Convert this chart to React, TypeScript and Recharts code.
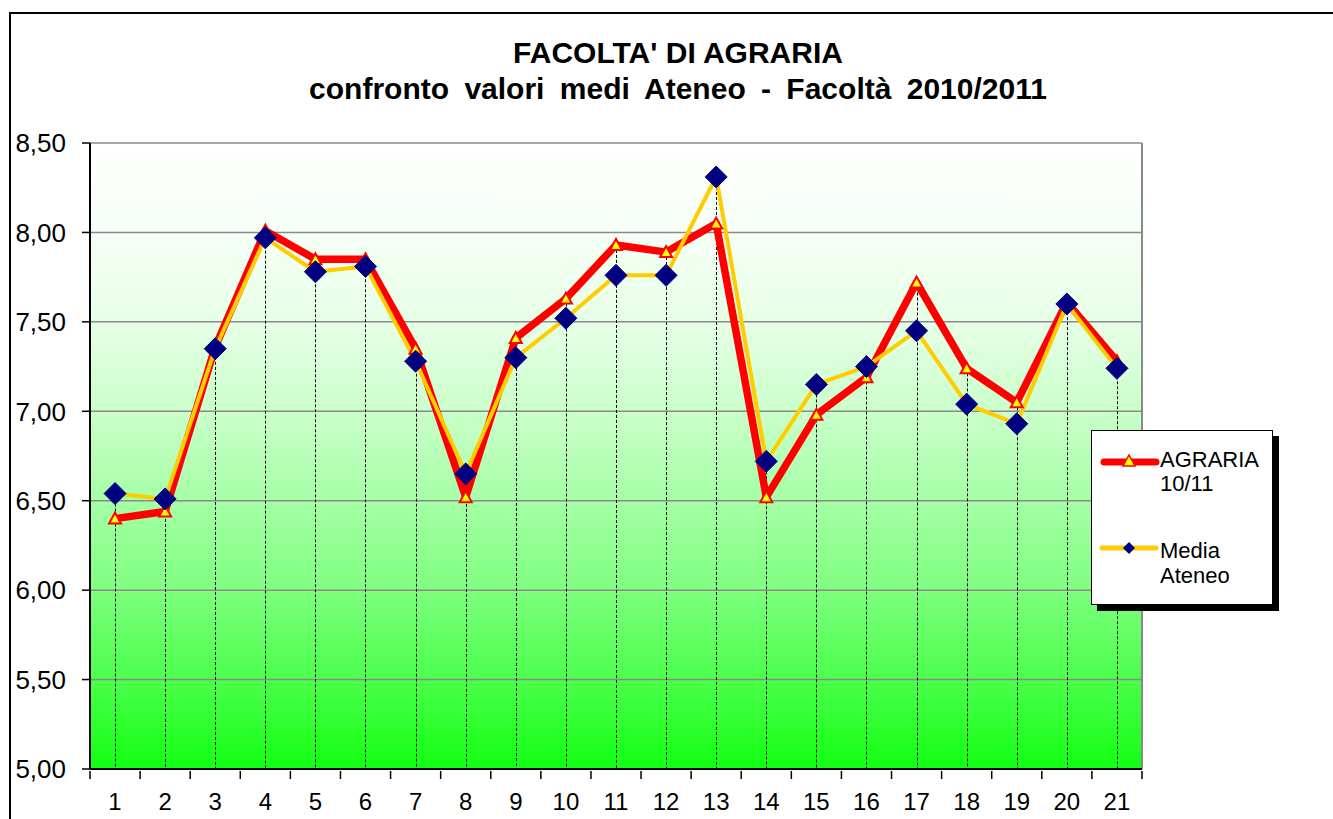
import React from "react";
import {
  ComposedChart,
  Line,
  Bar,
  XAxis,
  YAxis,
  CartesianGrid,
  ReferenceLine,
} from "recharts";

const categories = [
  "1", "2", "3", "4", "5", "6", "7", "8", "9", "10", "11",
  "12", "13", "14", "15", "16", "17", "18", "19", "20", "21",
];
const agraria = [
  6.4, 6.44, 7.36, 8.01, 7.85, 7.85, 7.35, 6.52, 7.41, 7.63, 7.93,
  7.89, 8.05, 6.52, 6.98, 7.19, 7.72, 7.24, 7.05, 7.61, 7.28,
];
const mediaAteneo = [
  6.54, 6.51, 7.35, 7.97, 7.78, 7.81, 7.28, 6.65, 7.3, 7.52, 7.76,
  7.76, 8.31, 6.72, 7.15, 7.25, 7.45, 7.04, 6.93, 7.6, 7.24,
];
const yTicks = [5, 5.5, 6, 6.5, 7, 7.5, 8, 8.5];
const seriesNames = ["AGRARIA 10/11", "Media Ateneo"];
const titleLines = [
  "FACOLTA' DI AGRARIA",
  "confronto valori medi Ateneo - Facoltà 2010/2011",
];

const data = categories.map((c, i) => ({
  x: i + 1,
  label: c,
  agraria: agraria[i],
  media: mediaAteneo[i],
  top: Math.max(agraria[i], mediaAteneo[i]),
}));

const W = 1333;
const H = 819;
const MARGIN = { top: 143, right: 191, bottom: 0, left: 10 };
const Y_AXIS_W = 80;
const X_AXIS_H = 50;
const PLOT_W = W - MARGIN.left - Y_AXIS_W - MARGIN.right;
const HALF_BAND = PLOT_W / categories.length / 2;
const FONT = "'Liberation Sans', Arial, sans-serif";

const Triangle = (props: any) => {
  const { cx, cy } = props;
  if (cx == null || cy == null) return null;
  return (
    <polygon
      points={`${cx},${cy - 6} ${cx - 6},${cy + 5} ${cx + 6},${cy + 5}`}
      fill="#ffff00"
      stroke="#ff0000"
      strokeWidth={2}
    />
  );
};

const Diamond = (props: any) => {
  const { cx, cy } = props;
  if (cx == null || cy == null) return null;
  const r = 11;
  return (
    <polygon
      points={`${cx},${cy - r} ${cx + r},${cy} ${cx},${cy + r} ${cx - r},${cy}`}
      fill="#000080"
      stroke="#000080"
      strokeWidth={1}
    />
  );
};

const DropLine = (props: any) => {
  const { x, y, width, height } = props;
  if (x == null || y == null) return null;
  const cx = Math.round(x + width / 2) + 0.5;
  return (
    <line
      x1={cx}
      x2={cx}
      y1={y}
      y2={y + height}
      stroke="#000"
      strokeWidth={1}
      strokeDasharray="3 2"
    />
  );
};

const XTick = (props: any) => {
  const { x, y, payload, index } = props;
  const lbl = categories[payload.value - 1];
  return (
    <g>
      <line x1={x - HALF_BAND} x2={x - HALF_BAND} y1={y} y2={y + 8} stroke="#000" strokeWidth={1.5} />
      {index === categories.length - 1 && (
        <line x1={x + HALF_BAND} x2={x + HALF_BAND} y1={y} y2={y + 8} stroke="#000" strokeWidth={1.5} />
      )}
      <text
        x={x}
        y={y + 39}
        textAnchor="middle"
        fontSize={24}
        fontFamily={FONT}
        fill="#000"
      >
        {lbl}
      </text>
    </g>
  );
};

const Legend = () => (
  <div
    style={{
      position: "absolute",
      left: 1091,
      top: 430,
      width: 180,
      height: 173,
      border: "1.5px solid #000",
      background: "#fff",
      boxShadow: "6px 6px 0 #000",
      fontFamily: FONT,
      fontSize: 22,
      lineHeight: "24px",
      color: "#000",
    }}
  >
    <svg
      width={70}
      height={160}
      style={{ position: "absolute", left: 0, top: 0 }}
    >
      <line x1={12} x2={64} y1={31} y2={31} stroke="#ff0000" strokeWidth={7} strokeLinecap="round" />
      <polygon points="37,24 31,35 43,35" fill="#ffff00" stroke="#ff0000" strokeWidth={1.5} />
      <line x1={10} x2={64} y1={117} y2={117} stroke="#ffcc00" strokeWidth={5} strokeLinecap="round" />
      <polygon points="37,111 43,117 37,123 31,117" fill="#000080" />
    </svg>
    <div style={{ position: "absolute", left: 68, top: 17 }}>
      {seriesNames[0].split(" ").map((t) => (
        <div key={t}>{t}</div>
      ))}
    </div>
    <div style={{ position: "absolute", left: 68, top: 107, lineHeight: "25px" }}>
      {seriesNames[1].split(" ").map((t) => (
        <div key={t}>{t}</div>
      ))}
    </div>
  </div>
);

export default function App() {
  return (
    <div
      style={{
        position: "absolute",
        left: 0,
        top: 0,
        width: W,
        height: H,
        overflow: "hidden",
        background: "#fff",
      }}
    >
      <svg width={0} height={0} style={{ position: "absolute" }}>
        <defs>
          <linearGradient id="bgGrad" x1="0" y1="0" x2="0" y2="1">
            <stop offset="0%" stopColor="#ffffff" />
            <stop offset="14%" stopColor="#f6fff6" />
            <stop offset="29%" stopColor="#e6ffe6" />
            <stop offset="43%" stopColor="#caffca" />
            <stop offset="57%" stopColor="#a6ffa6" />
            <stop offset="71%" stopColor="#80ff80" />
            <stop offset="86%" stopColor="#4aff4a" />
            <stop offset="100%" stopColor="#12ff12" />
          </linearGradient>
        </defs>
      </svg>
      <div
        style={{
          position: "absolute",
          left: 9,
          top: 12,
          width: 1400,
          height: 900,
          border: "2px solid #000",
        }}
      />
      <div
        style={{
          position: "absolute",
          left: 0,
          width: 1356,
          top: 38,
          textAlign: "center",
          fontFamily: FONT,
          fontWeight: "bold",
          fontSize: 30,
          lineHeight: "30px",
          color: "#000",
        }}
      >
        {titleLines[0]}
      </div>
      <div
        style={{
          position: "absolute",
          left: 0,
          width: 1356,
          top: 74,
          textAlign: "center",
          fontFamily: FONT,
          fontWeight: "bold",
          fontSize: 30,
          lineHeight: "30px",
          wordSpacing: 7,
          color: "#000",
        }}
      >
        {titleLines[1]}
      </div>
      <div style={{ position: "absolute", left: 0, top: 0 }}>
        <ComposedChart width={W} height={H} data={data} margin={MARGIN}>
          <CartesianGrid
            vertical={false}
            stroke="#8a8a8a"
            strokeWidth={1.5}
            fill="url(#bgGrad)"
            fillOpacity={1}
          />
          <XAxis
            type="number"
            dataKey="x"
            domain={[0.5, 21.5]}
            ticks={data.map((d) => d.x)}
            interval={0}
            height={X_AXIS_H}
            tickSize={0}
            tickLine={false}
            tick={<XTick />}
            axisLine={{ stroke: "#000", strokeWidth: 2 }}
          />
          <YAxis
            type="number"
            domain={[5, 8.5]}
            ticks={yTicks}
            interval={0}
            width={Y_AXIS_W}
            tickSize={8}
            tickMargin={16}
            tickLine={{ stroke: "#000", strokeWidth: 1.5 }}
            axisLine={{ stroke: "#000", strokeWidth: 2 }}
            tickFormatter={(v: number) => v.toFixed(2).replace(".", ",")}
            tick={{ fontSize: 26, fontFamily: FONT, fill: "#000" }}
          />
          <ReferenceLine x={21.5} stroke="#8a8a8a" strokeWidth={2} />
          <Bar
            dataKey="top"
            barSize={2}
            shape={<DropLine />}
            isAnimationActive={false}
          />
          <Line
            dataKey="agraria"
            stroke="#ff0000"
            strokeWidth={7.5}
            strokeLinejoin="round"
            dot={<Triangle />}
            activeDot={false}
            isAnimationActive={false}
          />
          <Line
            dataKey="media"
            stroke="#ffcc00"
            strokeWidth={4}
            strokeLinejoin="round"
            dot={<Diamond />}
            activeDot={false}
            isAnimationActive={false}
          />
        </ComposedChart>
      </div>
      <Legend />
    </div>
  );
}
